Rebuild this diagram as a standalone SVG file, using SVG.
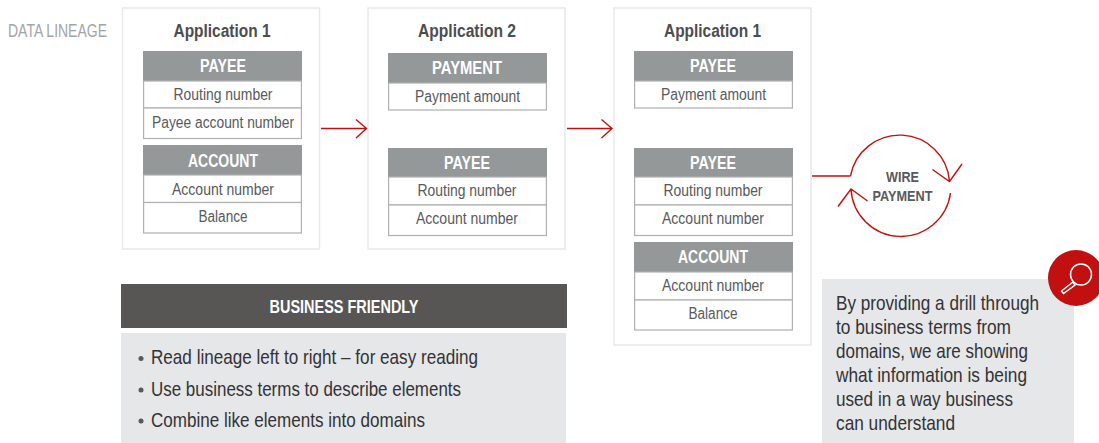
<svg xmlns="http://www.w3.org/2000/svg" width="1099" height="443" viewBox="0 0 1099 443">
<style>
text{font-family:"Liberation Sans",Arial,sans-serif}
.panel{fill:#fff;stroke:#e8e9ea;stroke-width:1.5}
.hd{fill:#949899}
.row{fill:#fff;stroke:#aeb0b1;stroke-width:1.2}
.ht{font-size:19px;font-weight:bold;fill:#fff;text-anchor:middle}
.rt{font-size:16px;fill:#58595b;text-anchor:middle}
.at{font-size:18px;font-weight:bold;fill:#4d4d4f;text-anchor:middle}
.bl{font-size:21px;fill:#333335}
.red{fill:none;stroke:#c1100f;stroke-width:1.4}
.dot{fill:#58595b}
</style>
<rect width="1099" height="443" fill="#fff"/>
<text x="8" y="37" font-size="18.500" fill="#a2a5a7" textLength="99" lengthAdjust="spacingAndGlyphs">DATA LINEAGE</text>

<g id="app1">
<rect class="panel" x="122.500" y="8" width="197" height="241"/>
<text class="at" x="222" y="37" textLength="97" lengthAdjust="spacingAndGlyphs">Application 1</text>
<rect class="hd" x="143" y="51" width="159" height="30"/>
<text class="ht" x="223" y="72" textLength="46" lengthAdjust="spacingAndGlyphs">PAYEE</text>
<rect class="row" x="143.600" y="81" width="157.800" height="27"/>
<text class="rt" x="223" y="100" textLength="99" lengthAdjust="spacingAndGlyphs">Routing number</text>
<rect class="row" x="143.600" y="108" width="157.800" height="30.500"/>
<text class="rt" x="223" y="128" textLength="142" lengthAdjust="spacingAndGlyphs">Payee account number</text>
<rect class="hd" x="143" y="145" width="159" height="30"/>
<text class="ht" x="223" y="167" textLength="70" lengthAdjust="spacingAndGlyphs">ACCOUNT</text>
<rect class="row" x="143.600" y="175" width="157.800" height="27.500"/>
<text class="rt" x="223" y="195" textLength="102" lengthAdjust="spacingAndGlyphs">Account number</text>
<rect class="row" x="143.600" y="202.500" width="157.800" height="30.500"/>
<text class="rt" x="223" y="222" textLength="49" lengthAdjust="spacingAndGlyphs">Balance</text>
</g>

<g id="app2">
<rect class="panel" x="368" y="8" width="197" height="241"/>
<text class="at" x="467" y="37" textLength="98" lengthAdjust="spacingAndGlyphs">Application 2</text>
<rect class="hd" x="388" y="53" width="159" height="30"/>
<text class="ht" x="467" y="74" textLength="70" lengthAdjust="spacingAndGlyphs">PAYMENT</text>
<rect class="row" x="388.600" y="83" width="157.800" height="27"/>
<text class="rt" x="467.500" y="102" textLength="105" lengthAdjust="spacingAndGlyphs">Payment amount</text>
<rect class="hd" x="388" y="148" width="159" height="29"/>
<text class="ht" x="467" y="169" textLength="46" lengthAdjust="spacingAndGlyphs">PAYEE</text>
<rect class="row" x="388.600" y="177" width="157.800" height="28"/>
<text class="rt" x="467" y="196" textLength="99" lengthAdjust="spacingAndGlyphs">Routing number</text>
<rect class="row" x="388.600" y="205" width="157.800" height="30.500"/>
<text class="rt" x="467" y="224" textLength="102" lengthAdjust="spacingAndGlyphs">Account number</text>
</g>

<g id="app3">
<rect class="panel" x="614" y="8" width="197" height="337"/>
<text class="at" x="712.500" y="37" textLength="97" lengthAdjust="spacingAndGlyphs">Application 1</text>
<rect class="hd" x="634" y="51" width="159" height="30"/>
<text class="ht" x="713" y="72" textLength="46" lengthAdjust="spacingAndGlyphs">PAYEE</text>
<rect class="row" x="634.600" y="81" width="157.800" height="27"/>
<text class="rt" x="713.500" y="100" textLength="105" lengthAdjust="spacingAndGlyphs">Payment amount</text>
<rect class="hd" x="634" y="148" width="159" height="29"/>
<text class="ht" x="713" y="169" textLength="46" lengthAdjust="spacingAndGlyphs">PAYEE</text>
<rect class="row" x="634.600" y="177" width="157.800" height="28"/>
<text class="rt" x="713" y="196" textLength="99" lengthAdjust="spacingAndGlyphs">Routing number</text>
<rect class="row" x="634.600" y="205" width="157.800" height="30.500"/>
<text class="rt" x="713" y="224" textLength="102" lengthAdjust="spacingAndGlyphs">Account number</text>
<rect class="hd" x="634" y="242" width="159" height="30"/>
<text class="ht" x="713" y="263" textLength="70" lengthAdjust="spacingAndGlyphs">ACCOUNT</text>
<rect class="row" x="634.600" y="272" width="157.800" height="28"/>
<text class="rt" x="713" y="291" textLength="102" lengthAdjust="spacingAndGlyphs">Account number</text>
<rect class="row" x="634.600" y="300" width="157.800" height="30"/>
<text class="rt" x="713" y="319" textLength="49" lengthAdjust="spacingAndGlyphs">Balance</text>
</g>

<g id="connectors">
<path class="red" d="M321 128.500H366.500M356 119.500L366.500 128.500L356 138"/>
<path class="red" d="M567 128.500H612M601.500 119.500L612 128.500L601.500 138"/>
<path class="red" d="M812 176H850.500"/>
</g>

<g id="wire-payment">
<path class="red" d="M850.500 176A50 50 0 0 1 949.500 181M932.500 169.500L949.500 181.500L962 164"/>
<path class="red" d="M950.500 193A50 50 0 0 1 851 189M867.500 201L851 189L838 206.500"/>
<text x="902.500" y="182" font-size="15.500" font-weight="bold" fill="#58595b" text-anchor="middle" textLength="33" lengthAdjust="spacingAndGlyphs">WIRE</text>
<text x="902.500" y="201" font-size="15.500" font-weight="bold" fill="#58595b" text-anchor="middle" textLength="60" lengthAdjust="spacingAndGlyphs">PAYMENT</text>
</g>

<g id="business-friendly">
<rect x="121" y="284" width="446" height="44" fill="#575654"/>
<text x="344" y="313" font-size="18.500" font-weight="bold" fill="#fff" text-anchor="middle" textLength="149" lengthAdjust="spacingAndGlyphs">BUSINESS FRIENDLY</text>
<rect x="121" y="333" width="445" height="110" fill="#e6e7e9"/>
<circle class="dot" cx="141" cy="358.500" r="2.500"/>
<circle class="dot" cx="141" cy="390" r="2.500"/>
<circle class="dot" cx="141" cy="421" r="2.500"/>
<text class="bl" x="151" y="364" textLength="327" lengthAdjust="spacingAndGlyphs">Read lineage left to right – for easy reading</text>
<text class="bl" x="151" y="396" textLength="310" lengthAdjust="spacingAndGlyphs">Use business terms to describe elements</text>
<text class="bl" x="151" y="427" textLength="274" lengthAdjust="spacingAndGlyphs">Combine like elements into domains</text>
</g>

<g id="drill-note">
<rect x="822" y="279" width="252" height="164" fill="#e6e7e9"/>
<text class="bl" x="836" y="310" textLength="203" lengthAdjust="spacingAndGlyphs">By providing a drill through</text>
<text class="bl" x="836" y="334" textLength="175" lengthAdjust="spacingAndGlyphs">to business terms from</text>
<text class="bl" x="836" y="358" textLength="192" lengthAdjust="spacingAndGlyphs">domains, we are showing</text>
<text class="bl" x="836" y="382" textLength="191" lengthAdjust="spacingAndGlyphs">what information is being</text>
<text class="bl" x="836" y="406" textLength="177" lengthAdjust="spacingAndGlyphs">used in a way business</text>
<text class="bl" x="836" y="430" textLength="119" lengthAdjust="spacingAndGlyphs">can understand</text>
</g>

<g id="magnifier">
<circle cx="1076" cy="278" r="28" fill="#c1100f"/>
<circle cx="1081" cy="274.500" r="10.500" fill="none" stroke="#fff" stroke-width="1.500"/>
<path d="M1073 282L1061.500 291L1063.500 293.500L1075 285Z" fill="none" stroke="#fff" stroke-width="1.500"/>
</g>
</svg>
